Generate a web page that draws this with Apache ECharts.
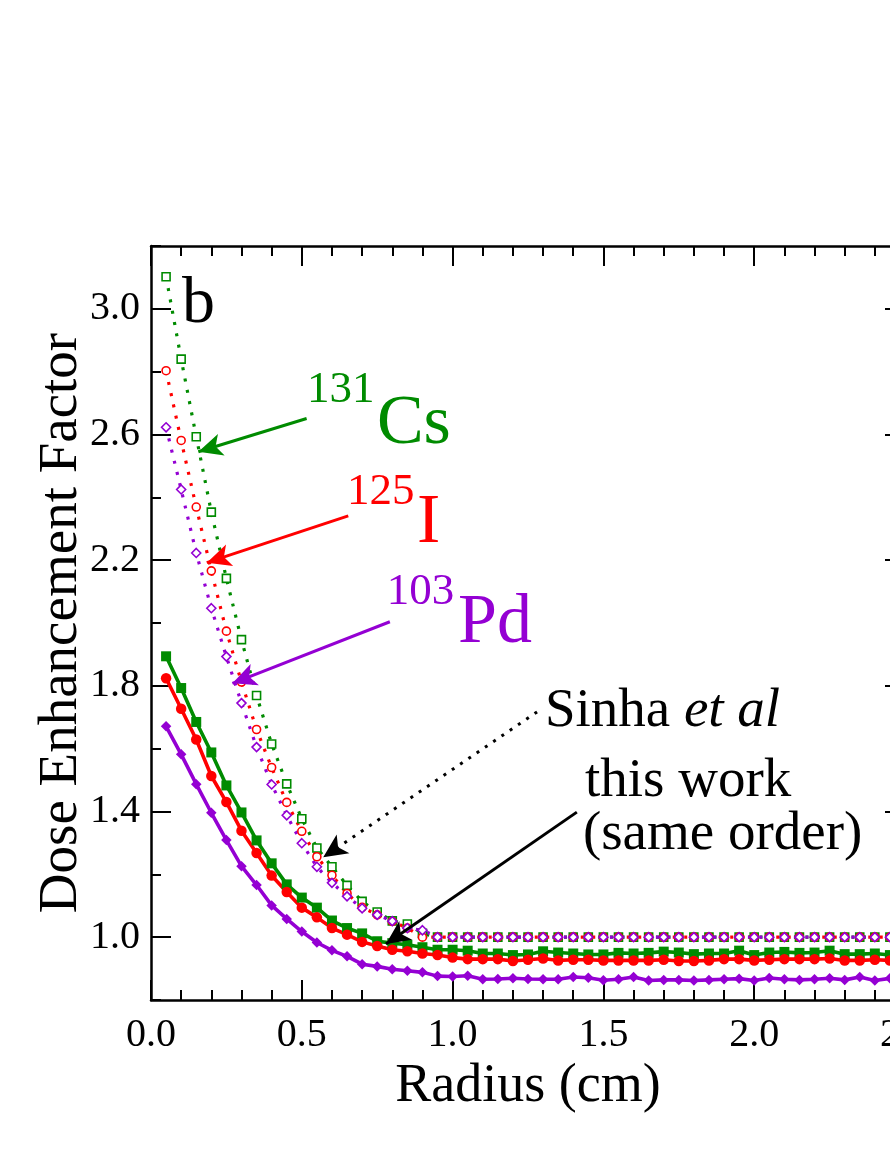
<!DOCTYPE html>
<html>
<head>
<meta charset="utf-8">
<script src="https://cdn.jsdelivr.net/npm/echarts@6/dist/echarts.min.js"></script>
<style>
  html, body { margin: 0; padding: 0; background: #fff; }
  #main { width: 890px; height: 1152px; }
</style>
</head>
<body>
<div id="main"></div>
<script>
// radius (cm) of every sample point
var radius = [0.05, 0.10, 0.15, 0.20, 0.25, 0.30, 0.35, 0.40, 0.45, 0.50,
  0.55, 0.60, 0.65, 0.70, 0.75, 0.80, 0.85, 0.90, 0.95, 1.00,
  1.05, 1.10, 1.15, 1.20, 1.25, 1.30, 1.35, 1.40, 1.45, 1.50,
  1.55, 1.60, 1.65, 1.70, 1.75, 1.80, 1.85, 1.90, 1.95, 2.00,
  2.05, 2.10, 2.15, 2.20, 2.25, 2.30, 2.35, 2.40, 2.45, 2.50];

// this work (solid lines)
var workCs = [1.894, 1.793, 1.685, 1.588, 1.483, 1.397, 1.308, 1.235, 1.168, 1.126,
  1.094, 1.053, 1.029, 1.012, 0.987, 0.981, 0.976, 0.968, 0.960, 0.960,
  0.957, 0.948, 0.948, 0.943, 0.945, 0.955, 0.951, 0.948, 0.945, 0.945,
  0.950, 0.948, 0.950, 0.954, 0.951, 0.946, 0.948, 0.948, 0.957, 0.943,
  0.951, 0.953, 0.950, 0.951, 0.957, 0.946, 0.946, 0.948, 0.943, 0.948];
var workI = [1.824, 1.727, 1.629, 1.513, 1.430, 1.339, 1.268, 1.196, 1.144, 1.094,
  1.063, 1.029, 1.008, 0.985, 0.972, 0.960, 0.955, 0.948, 0.943, 0.935,
  0.930, 0.930, 0.930, 0.924, 0.928, 0.932, 0.926, 0.928, 0.928, 0.926,
  0.926, 0.926, 0.926, 0.928, 0.924, 0.924, 0.926, 0.930, 0.930, 0.926,
  0.928, 0.930, 0.930, 0.930, 0.932, 0.926, 0.926, 0.928, 0.926, 0.928];
var workPd = [1.671, 1.582, 1.487, 1.396, 1.309, 1.226, 1.166, 1.101, 1.058, 1.018,
  0.983, 0.958, 0.939, 0.914, 0.907, 0.898, 0.893, 0.888, 0.876, 0.875,
  0.877, 0.866, 0.867, 0.869, 0.867, 0.866, 0.866, 0.873, 0.871, 0.863,
  0.866, 0.873, 0.862, 0.864, 0.864, 0.862, 0.864, 0.866, 0.868, 0.862,
  0.870, 0.866, 0.864, 0.866, 0.869, 0.864, 0.873, 0.862, 0.869, 0.865];

// Sinha et al (dotted lines)
var sinhaCs = [3.102, 2.840, 2.593, 2.353, 2.142, 1.947, 1.769, 1.615, 1.488, 1.377,
  1.284, 1.224, 1.165, 1.114, 1.080, 1.052, 1.042, 1.012, 1.000, 1.000,
  1.000, 1.000, 1.000, 1.000, 1.000, 1.000, 1.000, 1.000, 1.000, 1.000,
  1.000, 1.000, 1.000, 1.000, 1.000, 1.000, 1.000, 1.000, 1.000, 1.000,
  1.000, 1.000, 1.000, 1.000, 1.000, 1.000, 1.000, 1.000, 1.000, 1.000];
var sinhaI = [2.803, 2.581, 2.369, 2.166, 1.974, 1.812, 1.661, 1.540, 1.429, 1.337,
  1.256, 1.197, 1.139, 1.095, 1.071, 1.050, 1.029, 1.000, 1.000, 1.000,
  1.000, 1.000, 1.000, 1.000, 1.000, 1.000, 1.000, 1.000, 1.000, 1.000,
  1.000, 1.000, 1.000, 1.000, 1.000, 1.000, 1.000, 1.000, 1.000, 1.000,
  1.000, 1.000, 1.000, 1.000, 1.000, 1.000, 1.000, 1.000, 1.000, 1.000];
var sinhaPd = [2.623, 2.425, 2.223, 2.047, 1.893, 1.745, 1.605, 1.486, 1.388, 1.299,
  1.224, 1.173, 1.130, 1.092, 1.071, 1.051, 1.029, 1.022, 1.000, 1.000,
  1.000, 1.000, 1.000, 1.000, 1.000, 1.000, 1.000, 1.000, 1.000, 1.000,
  1.000, 1.000, 1.000, 1.000, 1.000, 1.000, 1.000, 1.000, 1.000, 1.000,
  1.000, 1.000, 1.000, 1.000, 1.000, 1.000, 1.000, 1.000, 1.000, 1.000];

var yMajorTicks = [1.0, 1.4, 1.8, 2.2, 2.6, 3.0];

// arrows [x1, y1, x2, y2] in data units
var arrowCs = [0.516, 2.651, 0.157, 2.545];
var arrowI = [0.654, 2.341, 0.185, 2.192];
var arrowPd = [0.792, 2.004, 0.270, 1.808];
var arrowSinha = [1.280, 1.717, 0.571, 1.254];
var arrowWork = [1.412, 1.398, 0.779, 0.978];

var GREEN = '#008b00', RED = '#ff0000', PURPLE = '#9400d3';
var FONT = 'Liberation Serif';

function pairs(ys) {
  var out = [];
  for (var i = 0; i < radius.length; i++) out.push([radius[i], ys[i]]);
  return out;
}

function arrowItem(a, color, type) {
  return [
    { coord: [a[0], a[1]], lineStyle: { color: color, width: 3, type: type } },
    { coord: [a[2], a[3]] }
  ];
}

function solidSeries(name, ys, color, symbol, size) {
  return {
    name: name, type: 'line', data: pairs(ys),
    symbol: symbol, symbolSize: size, showAllSymbol: true,
    lineStyle: { color: color, width: 3.6 },
    itemStyle: { color: color },
    z: 3
  };
}

function dottedSeries(name, ys, color, symbol, size) {
  return {
    name: name, type: 'line', data: pairs(ys),
    symbol: symbol, symbolSize: size, showAllSymbol: true,
    lineStyle: { color: color, width: 3.2, type: [3, 8.5] },
    itemStyle: { color: '#fff', borderColor: color, borderWidth: 1.6 },
    z: 4
  };
}

var myChart = echarts.init(document.getElementById('main'));

var tickStyle = { color: '#000', width: 2 };
var lineStyleAxis = { color: '#000', width: 2.5 };

function yAxisDef(pos, major, labels) {
  var ax = {
    type: 'value', min: 0.8, max: 3.2, interval: 0.2, position: pos,
    axisLine: { show: !major, onZero: false, lineStyle: lineStyleAxis },
    axisTick: { show: true, inside: true, length: major ? 20 : 10, lineStyle: tickStyle },
    axisLabel: { show: false },
    splitLine: { show: false }
  };
  if (major) ax.axisTick.customValues = yMajorTicks;
  if (labels) {
    ax.axisLabel = {
      show: true, fontSize: 40, fontFamily: FONT, color: '#000', margin: 11,
      formatter: function (v) {
        var k = Math.round(v * 10);
        return (k - 10) % 4 === 0 ? (k / 10).toFixed(1) : '';
      }
    };
    ax.name = 'Dose Enhancement Factor';
    ax.nameLocation = 'middle';
    ax.nameGap = 62;
    ax.nameMoveOverlap = false;
    ax.nameTextStyle = { fontSize: 55, fontFamily: FONT, color: '#000' };
  }
  return ax;
}

function xAxisDef(pos, labels) {
  var ax = {
    type: 'value', min: 0, max: 2.5, interval: 0.5, position: pos,
    axisLine: { show: true, onZero: false, lineStyle: lineStyleAxis },
    axisTick: { show: true, inside: true, length: 20, lineStyle: tickStyle },
    minorTick: { show: true, splitNumber: 5, length: 10, lineStyle: tickStyle },
    axisLabel: { show: false },
    splitLine: { show: false }
  };
  if (labels) {
    ax.axisLabel = {
      show: true, fontSize: 40, fontFamily: FONT, color: '#000', margin: 15,
      formatter: function (v) { return v.toFixed(1); }
    };
    ax.name = 'Radius (cm)';
    ax.nameLocation = 'middle';
    ax.nameGap = 54;
    ax.nameTextStyle = { fontSize: 54, fontFamily: FONT, color: '#000' };
  }
  return ax;
}

var cs = solidSeries('this work Cs', workCs, GREEN, 'rect', 10);
cs.markLine = {
  silent: true, animation: false, symbol: ['none', 'arrow'], symbolSize: [17, 24],
  label: { show: false },
  data: [
    arrowItem(arrowCs, GREEN, 'solid'),
    arrowItem(arrowI, RED, 'solid'),
    arrowItem(arrowPd, PURPLE, 'solid'),
    arrowItem(arrowSinha, '#000', [3, 7]),
    arrowItem(arrowWork, '#000', 'solid')
  ]
};

var option = {
  backgroundColor: '#fff',
  animation: false,
  grid: { left: 151, top: 246, width: 754, height: 754, outerBoundsMode: 'none', containLabel: false },
  xAxis: [xAxisDef('bottom', true), xAxisDef('top', false)],
  yAxis: [
    yAxisDef('left', false, true),
    yAxisDef('left', true, false),
    yAxisDef('right', false, false),
    yAxisDef('right', true, false)
  ],
  series: [
    cs,
    solidSeries('this work I', workI, RED, 'circle', 10.5),
    solidSeries('this work Pd', workPd, PURPLE, 'diamond', 10.5),
    dottedSeries('Sinha Cs', sinhaCs, GREEN, 'rect', 8),
    dottedSeries('Sinha I', sinhaI, RED, 'circle', 8),
    dottedSeries('Sinha Pd', sinhaPd, PURPLE, 'diamond', 9)
  ]
};
myChart.setOption(option, true);

// annotation texts, anchored in data units: [text, x, y, size, color]
var notes = [
  ['b', 0.103, 3.012, 66, '#000'],
  ['131', 0.517, 2.742, 45, GREEN],
  ['Cs', 0.749, 2.633, 70, GREEN],
  ['125', 0.650, 2.417, 45, RED],
  ['I', 0.882, 2.315, 70, RED],
  ['103', 0.782, 2.099, 45, PURPLE],
  ['Pd', 1.018, 1.997, 70, PURPLE],
  ['{n|Sinha }{i|et al}', 1.306, 1.718, 55, '#000'],
  ['this work', 1.439, 1.496, 55, '#000'],
  ['(same order)', 1.432, 1.327, 55, '#000']
];

var graphics = notes.map(function (n) {
  var p = myChart.convertToPixel({ gridIndex: 0 }, [n[1], n[2]]);
  return {
    type: 'text', x: p[0], y: p[1], z: 10,
    style: {
      text: n[0], fill: n[4], font: n[3] + 'px "' + FONT + '"',
      fontSize: n[3], fontFamily: FONT,
      textAlign: 'left', textVerticalAlign: 'middle', verticalAlign: 'middle',
      rich: {
        n: { fontSize: n[3], fontFamily: FONT, fill: n[4] },
        i: { fontSize: n[3], fontFamily: FONT, fontStyle: 'italic', fill: n[4] }
      }
    }
  };
});
myChart.setOption({ graphic: graphics });
</script>
</body>
</html>
